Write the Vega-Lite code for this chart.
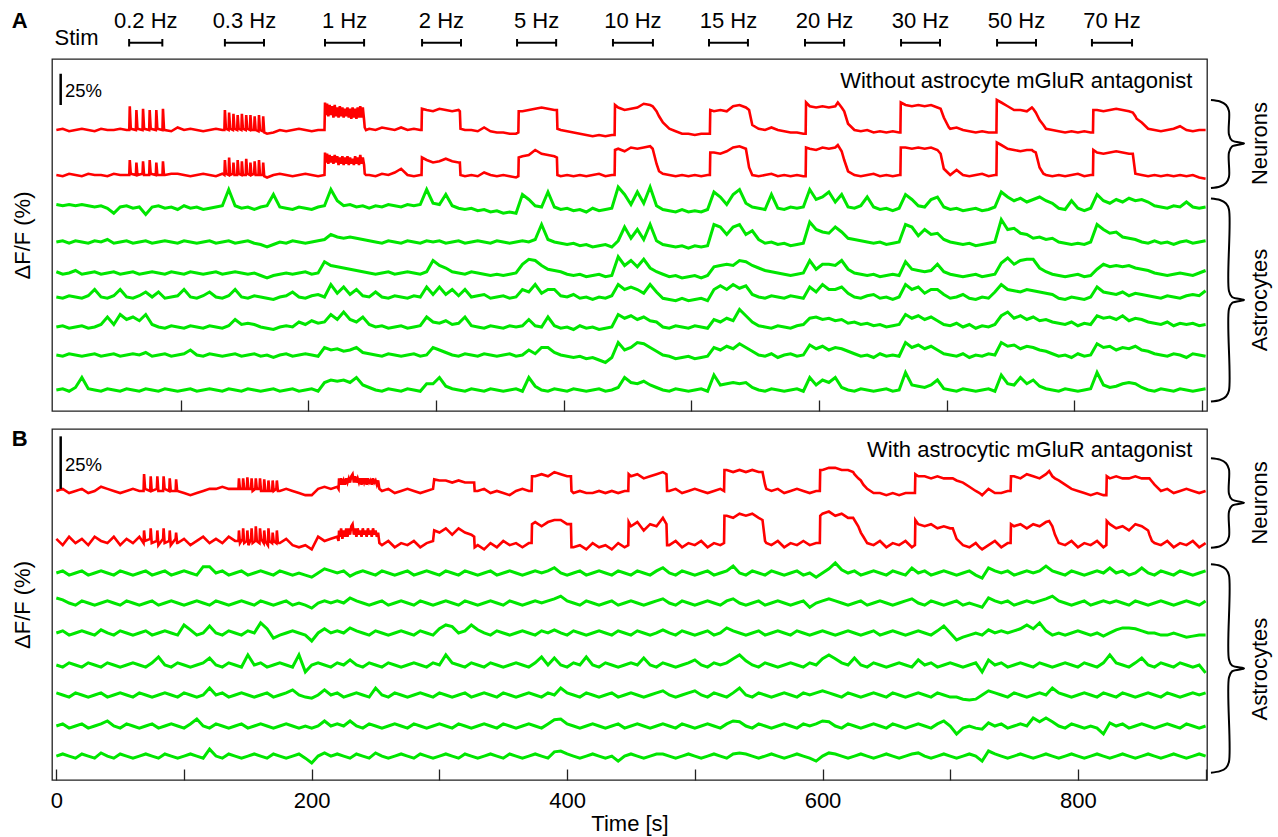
{
"$schema": "https://vega.github.io/schema/vega-lite/v6.json",
"background": "white",
"padding": {"left": 10, "top": 9, "right": 5, "bottom": 5},
"config": {"font": "Liberation Sans", "view": {"stroke": "#222", "strokeWidth": 1.3}, "axis": {"minExtent": 0, "grid": false}},
"spacing": 14,
"datasets": {
"stim": [
{"label":"0.2 Hz","start":57,"end":83,"mid":70},
{"label":"0.3 Hz","start":132,"end":162.6,"mid":147.3},
{"label":"1 Hz","start":210.4,"end":241,"mid":225.7},
{"label":"2 Hz","start":286.4,"end":316.9,"mid":301.6},
{"label":"5 Hz","start":360.8,"end":391.4,"mid":376.1},
{"label":"10 Hz","start":435.9,"end":467.2,"mid":451.5},
{"label":"15 Hz","start":511.1,"end":541.6,"mid":526.3},
{"label":"20 Hz","start":586.3,"end":616.9,"mid":601.6},
{"label":"30 Hz","start":661.5,"end":692,"mid":676.7},
{"label":"50 Hz","start":736.7,"end":767.2,"mid":751.9},
{"label":"70 Hz","start":811,"end":842.4,"mid":826.7}
],
"braceA": [
{"g":"n","o":1,"bx":904.2,"by":24},{"g":"n","o":2,"bx":911.3,"by":22.8},{"g":"n","o":3,"bx":916,"by":20},{"g":"n","o":4,"bx":918.3,"by":15.2},{"g":"n","o":5,"bx":918.3,"by":-3.6},{"g":"n","o":6,"bx":920.7,"by":-8.4},{"g":"n","o":7,"bx":930.1,"by":-10.8},{"g":"n","o":8,"bx":920.7,"by":-13.2},{"g":"n","o":9,"bx":918.3,"by":-18},{"g":"n","o":10,"bx":918.3,"by":-37.6},{"g":"n","o":11,"bx":916,"by":-42.4},{"g":"n","o":12,"bx":911.3,"by":-45.2},{"g":"n","o":13,"bx":904.2,"by":-46.4},
{"g":"s","o":1,"bx":904.2,"by":-54.8},{"g":"s","o":2,"bx":911.3,"by":-56},{"g":"s","o":3,"bx":916,"by":-58.8},{"g":"s","o":4,"bx":918.3,"by":-63.6},{"g":"s","o":5,"bx":918.3,"by":-128.8},{"g":"s","o":6,"bx":920.7,"by":-133.6},{"g":"s","o":7,"bx":930.1,"by":-136},{"g":"s","o":8,"bx":920.7,"by":-138.4},{"g":"s","o":9,"bx":918.3,"by":-143.2},{"g":"s","o":10,"bx":918.3,"by":-208.4},{"g":"s","o":11,"bx":916,"by":-213.2},{"g":"s","o":12,"bx":911.3,"by":-216},{"g":"s","o":13,"bx":904.2,"by":-217.2}
],
"braceB": [
{"g":"n","o":1,"bx":904.2,"by":15.6},{"g":"n","o":2,"bx":911.3,"by":14.9},{"g":"n","o":3,"bx":916,"by":13.2},{"g":"n","o":4,"bx":918.3,"by":10.3},{"g":"n","o":5,"bx":918.3,"by":-1.3},{"g":"n","o":6,"bx":920.7,"by":-4.1},{"g":"n","o":7,"bx":930.1,"by":-5.6},{"g":"n","o":8,"bx":920.7,"by":-7},{"g":"n","o":9,"bx":918.3,"by":-9.9},{"g":"n","o":10,"bx":918.3,"by":-21.8},{"g":"n","o":11,"bx":916,"by":-24.6},{"g":"n","o":12,"bx":911.3,"by":-26.3},{"g":"n","o":13,"bx":904.2,"by":-27},
{"g":"s","o":1,"bx":904.2,"by":-34.9},{"g":"s","o":2,"bx":911.3,"by":-35.6},{"g":"s","o":3,"bx":916,"by":-37.3},{"g":"s","o":4,"bx":918.3,"by":-40.1},{"g":"s","o":5,"bx":918.3,"by":-80.2},{"g":"s","o":6,"bx":920.7,"by":-83.1},{"g":"s","o":7,"bx":930.1,"by":-84.5},{"g":"s","o":8,"bx":920.7,"by":-85.9},{"g":"s","o":9,"bx":918.3,"by":-88.8},{"g":"s","o":10,"bx":918.3,"by":-128.9},{"g":"s","o":11,"bx":916,"by":-131.8},{"g":"s","o":12,"bx":911.3,"by":-133.4},{"g":"s","o":13,"bx":904.2,"by":-134.1}
],
"A": [
{"t":0,"a":0,"b":0,"c":2,"d":0,"e":1,"f":0,"g":0,"h":0,"i":0},
{"t":5,"a":1,"b":-1,"c":1,"d":1,"e":-1,"f":-1,"g":1,"h":-1,"i":1},
{"t":10,"a":-1,"b":1,"c":2,"d":-1,"e":0,"f":1,"g":-1,"h":1,"i":-1},
{"t":15,"a":0,"b":0,"c":1,"d":1,"e":2,"f":0,"g":0,"h":0,"i":2},
{"t":20,"a":1,"b":-1,"c":2,"d":0,"e":-1,"f":-1,"g":1,"h":-1,"i":10},
{"t":25,"a":0,"b":1,"c":1,"d":-1,"e":0,"f":1,"g":-1,"h":0,"i":1},
{"t":30,"a":-1,"b":0,"c":0,"d":1,"e":1,"f":6,"g":0,"h":1,"i":0},
{"t":35,"a":1,"b":0,"c":1,"d":0,"e":-1,"f":0,"g":2,"h":-1,"i":-1},
{"t":40,"a":0,"b":-1,"c":-1,"d":2,"e":0,"f":-1,"g":8,"h":0,"i":1},
{"t":45,"a":0,"b":1,"c":-5,"d":-1,"e":1,"f":1,"g":2,"h":1,"i":0},
{"t":50,"a":1,"b":0,"c":0,"d":0,"e":-1,"f":6,"g":10,"h":-1,"i":-1},
{"t":55,"a":0,"b":0,"c":1,"d":1,"e":0,"f":0,"g":6,"h":0,"i":1},
{"t":57.1,"a":0,"b":0},{"t":57.5,"a":19,"b":12},{"t":58.3,"a":1,"b":1},
{"t":60,"c":-1,"d":-1,"e":1,"f":-1,"g":8,"h":1,"i":0},
{"t":62.3,"a":0,"b":0},{"t":62.7,"a":16,"b":10},{"t":63.5,"a":1,"b":0},
{"t":65,"c":0,"d":0,"e":-1,"f":1,"g":5,"h":0,"i":-1},
{"t":67.5,"a":0,"b":1},{"t":67.9,"a":17,"b":11},{"t":68.7,"a":1,"b":0},
{"t":70,"c":-6,"d":1,"e":0,"f":4,"g":10,"h":2,"i":1},
{"t":72.7,"a":0,"b":0},{"t":73.1,"a":16,"b":12},{"t":73.9,"a":1,"b":1},
{"t":75,"c":0,"d":-1,"e":1,"f":0,"g":2,"h":-1,"i":0},
{"t":77.9,"a":0,"b":0},{"t":78.3,"a":16,"b":10},{"t":79.1,"a":1,"b":0},
{"t":80,"c":1,"d":0,"e":0,"f":4,"g":0,"h":0,"i":-1},
{"t":83.1,"a":0,"b":0},{"t":83.5,"a":17,"b":11},{"t":84.3,"a":1,"b":0},
{"t":85,"a":0,"b":0,"c":-1,"d":1,"e":-1,"f":-1,"g":-1,"h":1,"i":1},
{"t":90,"a":-1,"b":1,"c":0,"d":0,"e":1,"f":0,"g":1,"h":-1,"i":0},
{"t":95,"a":2,"b":1,"c":-2,"d":-1,"e":0,"f":1,"g":0,"h":0,"i":-1},
{"t":100,"a":0,"b":0,"c":1,"d":1,"e":-1,"f":6,"g":-1,"h":1,"i":0},
{"t":105,"a":1,"b":-1,"c":-1,"d":0,"e":1,"f":0,"g":1,"h":4,"i":1},
{"t":110,"a":0,"b":0,"c":0,"d":-1,"e":0,"f":-1,"g":0,"h":0,"i":-1},
{"t":115,"a":-1,"b":1,"c":-2,"d":0,"e":-1,"f":1,"g":-1,"h":-1,"i":0},
{"t":120,"a":0,"b":0,"c":-1,"d":1,"e":0,"f":4,"g":1,"h":1,"i":1},
{"t":125,"a":1,"b":-1,"c":0,"d":-1,"e":1,"f":0,"g":0,"h":0,"i":0},
{"t":130,"a":0,"b":1,"c":1,"d":0,"e":-1,"f":-1,"g":-1,"h":-1,"i":-1},
{"t":131.6,"a":0,"b":0},{"t":132,"a":16,"b":12},{"t":132.8,"a":1,"b":1},
{"t":134.9,"a":0,"b":0},{"t":135.3,"a":14,"b":14},{"t":136.1,"a":1,"b":0},
{"t":135,"c":14,"d":1,"e":0,"f":1,"g":1,"h":0,"i":1},
{"t":138.3,"a":0,"b":1},{"t":138.7,"a":13,"b":10},{"t":139.5,"a":1,"b":0},
{"t":140,"c":1,"d":-1,"e":1,"f":6,"g":6,"h":1,"i":0},
{"t":141.6,"a":0,"b":0},{"t":142,"a":12,"b":12},{"t":142.8,"a":1,"b":1},
{"t":144.9,"a":0,"b":0},{"t":145.3,"a":13,"b":11},{"t":146.1,"a":1,"b":0},
{"t":145,"c":-1,"d":0,"e":0,"f":0,"g":2,"h":-1,"i":-1},
{"t":148.3,"a":0,"b":0},{"t":148.7,"a":12,"b":13},{"t":149.5,"a":1,"b":1},
{"t":150,"c":0,"d":1,"e":-1,"f":-1,"g":3,"h":0,"i":1},
{"t":151.6,"a":0,"b":0},{"t":152,"a":12,"b":10},{"t":152.8,"a":0,"b":0},
{"t":154.9,"a":0,"b":1},{"t":155.3,"a":11,"b":11},{"t":156.1,"a":0,"b":0},
{"t":155,"c":-2,"d":-1,"e":0,"f":1,"g":2,"h":1,"i":0},
{"t":158.3,"a":-1,"b":0},{"t":158.7,"a":12,"b":12},{"t":159.5,"a":0,"b":0},
{"t":160,"c":0,"d":-2,"e":-2,"f":0,"g":0,"h":-1,"i":-1},
{"t":161.6,"a":-1,"b":0},{"t":162,"a":11,"b":10},{"t":162.8,"a":-2,"b":-1},
{"t":165,"a":-3,"b":-2,"c":1,"d":-4,"e":-4,"f":-1,"g":-1,"h":0,"i":0},
{"t":170,"a":-2,"b":0,"c":10,"d":-2,"e":-2,"f":-2,"g":-2,"h":-2,"i":1},
{"t":175,"a":0,"b":1,"c":0,"d":0,"e":-1,"f":0,"g":0,"h":0,"i":-1},
{"t":180,"a":-1,"b":0,"c":-1,"d":-1,"e":0,"f":1,"g":1,"h":1,"i":0},
{"t":185,"a":0,"b":-1,"c":-2,"d":1,"e":-1,"f":4,"g":0,"h":-1,"i":1},
{"t":190,"a":1,"b":0,"c":0,"d":0,"e":0,"f":0,"g":4,"h":0,"i":-1},
{"t":195,"a":0,"b":1,"c":-1,"d":-1,"e":1,"f":-1,"g":2,"h":1,"i":0},
{"t":200,"a":-1,"b":0,"c":-2,"d":0,"e":-1,"f":1,"g":5,"h":0,"i":1},
{"t":205,"a":0,"b":-1,"c":0,"d":1,"e":0,"f":2,"g":3,"h":-1,"i":-1},
{"t":210,"a":0,"b":0,"c":1,"d":2,"e":9,"f":0,"g":4,"h":6,"i":6},
{"t":210.4,"a":22,"b":18},{"t":211,"a":12,"b":10},{"t":212,"a":21,"b":17},{"t":213,"a":11,"b":9},{"t":214,"a":20,"b":16},
{"t":215,"a":12,"b":10,"c":14,"d":6,"e":6,"f":10,"g":10,"h":4,"i":8},
{"t":216,"a":19,"b":15},{"t":217,"a":10,"b":9},{"t":218,"a":20,"b":16},{"t":219,"a":11,"b":10},
{"t":220,"a":18,"b":15,"c":5,"d":4,"e":5,"f":3,"g":6,"h":5,"i":7},
{"t":221,"a":10,"b":8},{"t":222,"a":19,"b":14},{"t":223,"a":11,"b":9},{"t":224,"a":18,"b":15},
{"t":225,"a":10,"b":8,"c":1,"d":3,"e":4,"f":8,"g":12,"h":3,"i":8},
{"t":226,"a":17,"b":14},{"t":227,"a":11,"b":9},{"t":228,"a":18,"b":15},{"t":229,"a":10,"b":8},
{"t":230,"a":17,"b":14,"c":2,"d":4,"e":3,"f":2,"g":6,"h":4,"i":6},
{"t":231,"a":9,"b":9},{"t":232,"a":18,"b":13},{"t":233,"a":10,"b":8},{"t":234,"a":17,"b":15},
{"t":235,"a":9,"b":9,"c":0,"d":3,"e":2,"f":6,"g":4,"h":6,"i":10},
{"t":236,"a":18,"b":14},{"t":237,"a":10,"b":8},{"t":238,"a":19,"b":16},{"t":239,"a":10,"b":9},
{"t":240,"a":18,"b":14,"c":1,"d":2,"e":1,"f":1,"g":8,"h":2,"i":4},
{"t":241,"a":8,"b":8},{"t":241.5,"a":2,"b":1},{"t":242.5,"a":0,"b":0},
{"t":245,"a":1,"b":0,"c":-1,"d":1,"e":0,"f":0,"g":2,"h":1,"i":2},
{"t":250,"a":0,"b":-1,"c":1,"d":0,"e":-1,"f":4,"g":0,"h":0,"i":0},
{"t":255,"a":2,"b":1,"c":0,"d":-1,"e":0,"f":0,"g":1,"h":-1,"i":-1},
{"t":260,"a":1,"b":0,"c":2,"d":1,"e":1,"f":-1,"g":-1,"h":1,"i":1},
{"t":265,"a":0,"b":2,"c":1,"d":0,"e":-1,"f":1,"g":0,"h":0,"i":0},
{"t":270,"a":2,"b":5,"c":0,"d":-1,"e":0,"f":0,"g":1,"h":-1,"i":-1},
{"t":275,"a":0,"b":0,"c":2,"d":1,"e":1,"f":-1,"g":-1,"h":0,"i":1},
{"t":280,"a":1,"b":-1,"c":1,"d":0,"e":0,"f":1,"g":0,"h":1,"i":0},
{"t":285,"a":0,"b":0,"c":2,"d":-1,"e":-1,"f":0,"g":1,"h":-1,"i":-1},
{"t":286,"a":0,"b":0},{"t":286.3,"a":17,"b":14},
{"t":290,"a":16,"b":12,"c":14,"d":1,"e":1,"f":8,"g":8,"h":0,"i":5},
{"t":295,"a":15,"b":10,"c":3,"d":0,"e":10,"f":2,"g":4,"h":6,"i":5},
{"t":300,"a":17,"b":11,"c":2,"d":1,"e":6,"f":8,"g":3,"h":4,"i":10},
{"t":305,"a":16,"b":13,"c":10,"d":-1,"e":4,"f":2,"g":5,"h":2,"i":3},
{"t":310,"a":15,"b":11,"c":1,"d":0,"e":1,"f":6,"g":2,"h":0,"i":1},
{"t":315,"a":16,"b":10,"c":-1,"d":1,"e":0,"f":1,"g":3,"h":-1,"i":0},
{"t":316,"a":15,"b":10},{"t":316.5,"a":1,"b":0},
{"t":320,"a":0,"b":-1,"c":-2,"d":-1,"e":-1,"f":6,"g":8,"h":1,"i":-1},
{"t":325,"a":0,"b":0,"c":-1,"d":0,"e":1,"f":0,"g":1,"h":0,"i":1},
{"t":330,"a":-1,"b":-1,"c":-3,"d":1,"e":0,"f":1,"g":0,"h":-1,"i":0},
{"t":335,"a":2,"b":2,"c":-2,"d":0,"e":-1,"f":2,"g":-1,"h":1,"i":-1},
{"t":340,"a":-1,"b":0,"c":-4,"d":-1,"e":-2,"f":-1,"g":1,"h":0,"i":1},
{"t":345,"a":-2,"b":-1,"c":-3,"d":1,"e":-1,"f":0,"g":0,"h":-1,"i":0},
{"t":350,"a":-2,"b":0,"c":-5,"d":0,"e":-2,"f":1,"g":-1,"h":0,"i":-1},
{"t":355,"a":-3,"b":-1,"c":-4,"d":-1,"e":-1,"f":-1,"g":1,"h":1,"i":0},
{"t":360,"a":-3,"b":-2,"c":-5,"d":0,"e":0,"f":0,"g":0,"h":-1,"i":1},
{"t":361.8,"a":-2,"b":-1},{"t":362.1,"a":15,"b":14},
{"t":365,"a":15,"b":15,"c":10,"d":1,"e":7,"f":6,"g":1,"h":0,"i":-1},
{"t":370,"a":16,"b":16,"c":6,"d":0,"e":11,"f":4,"g":6,"h":4,"i":10},
{"t":375,"a":17,"b":20,"c":1,"d":2,"e":10,"f":10,"g":1,"h":1,"i":3},
{"t":380,"a":18,"b":17,"c":0,"d":14,"e":6,"f":3,"g":0,"h":6,"i":0},
{"t":385,"a":17,"b":16,"c":12,"d":2,"e":3,"f":6,"g":8,"h":6,"i":-1},
{"t":390,"a":16,"b":15,"c":0,"d":0,"e":2,"f":6,"g":1,"h":2,"i":1},
{"t":392,"a":16,"b":14},{"t":392.4,"a":1,"b":0},
{"t":395,"a":0,"b":-1,"c":-2,"d":-1,"e":1,"f":1,"g":-1,"h":0,"i":0},
{"t":400,"a":-1,"b":0,"c":-1,"d":-2,"e":-1,"f":0,"g":0,"h":-1,"i":-1},
{"t":405,"a":-2,"b":-1,"c":-3,"d":-1,"e":-2,"f":2,"g":-2,"h":-2,"i":1},
{"t":410,"a":-3,"b":0,"c":-2,"d":-3,"e":-1,"f":-1,"g":1,"h":-1,"i":0},
{"t":415,"a":-4,"b":-1,"c":-4,"d":-2,"e":-3,"f":0,"g":-1,"h":-3,"i":-1},
{"t":420,"a":-5,"b":0,"c":-1,"d":-4,"e":-2,"f":-2,"g":0,"h":-2,"i":0},
{"t":425,"a":-4,"b":1,"c":-3,"d":-3,"e":-1,"f":0,"g":-2,"h":-4,"i":1},
{"t":430,"a":-5,"b":-1,"c":-2,"d":-2,"e":-3,"f":-1,"g":-1,"h":-6,"i":-1},
{"t":435,"a":-4,"b":0,"c":-1,"d":-4,"e":-2,"f":1,"g":0,"h":-2,"i":0},
{"t":437.2,"a":-4,"b":0},{"t":437.5,"a":20,"b":20},
{"t":440,"a":18,"b":21,"c":16,"d":1,"e":13,"f":10,"g":10,"h":10,"i":2},
{"t":445,"a":16,"b":19,"c":10,"d":12,"e":6,"f":6,"g":7,"h":4,"i":10},
{"t":450,"a":17,"b":22,"c":2,"d":3,"e":10,"f":8,"g":9,"h":6,"i":6},
{"t":455,"a":18,"b":21,"c":12,"d":10,"e":5,"f":6,"g":6,"h":10,"i":5},
{"t":460,"a":21,"b":22,"c":3,"d":2,"e":11,"f":3,"g":8,"h":9,"i":7},
{"t":465,"a":20,"b":23,"c":16,"d":14,"e":4,"f":10,"g":5,"h":6,"i":4},
{"t":467,"a":19,"b":21},
{"t":470,"a":15,"b":9,"c":1,"d":1,"e":1,"f":4,"g":4,"h":3,"i":2},
{"t":472,"a":11,"b":3},
{"t":475,"a":6,"b":1,"c":-2,"d":-2,"e":-1,"f":-1,"g":0,"h":0,"i":0},
{"t":480,"a":1,"b":0,"c":-3,"d":-3,"e":-3,"f":-2,"g":-1,"h":-1,"i":-1},
{"t":485,"a":-1,"b":-1,"c":-4,"d":-4,"e":-2,"f":-3,"g":1,"h":-3,"i":1},
{"t":490,"a":-3,"b":0,"c":-2,"d":-3,"e":-4,"f":-1,"g":0,"h":-2,"i":0},
{"t":495,"a":-3,"b":-1,"c":-4,"d":-5,"e":-3,"f":-3,"g":-1,"h":-1,"i":-1},
{"t":500,"a":-4,"b":0,"c":-3,"d":-3,"e":-2,"f":-2,"g":1,"h":-3,"i":0},
{"t":505,"a":-3,"b":-1,"c":-4,"d":-4,"e":-4,"f":-1,"g":0,"h":-2,"i":1},
{"t":510,"a":-3,"b":0,"c":-2,"d":-3,"e":-2,"f":-3,"g":-1,"h":-1,"i":-1},
{"t":511.8,"a":-3,"b":0},{"t":512.1,"a":16,"b":18},
{"t":515,"a":15,"b":18,"c":12,"d":14,"e":5,"f":6,"g":6,"h":6,"i":12},
{"t":520,"a":16,"b":17,"c":8,"d":12,"e":6,"f":9,"g":4,"h":4,"i":4},
{"t":525,"a":15,"b":19,"c":2,"d":6,"e":7,"f":6,"g":7,"h":7,"i":5},
{"t":530,"a":19,"b":22,"c":10,"d":12,"e":6,"f":10,"g":5,"h":5,"i":6},
{"t":535,"a":20,"b":23,"c":14,"d":14,"e":10,"f":7,"g":14,"h":9,"i":5},
{"t":540,"a":18,"b":21,"c":3,"d":6,"e":9,"f":9,"g":9,"h":6,"i":6},
{"t":542.5,"a":16,"b":6},
{"t":545,"a":4,"b":0,"c":0,"d":9,"e":6,"f":2,"g":4,"h":3,"i":2},
{"t":550,"a":1,"b":-1,"c":-1,"d":2,"e":4,"f":0,"g":1,"h":0,"i":0},
{"t":555,"a":0,"b":0,"c":-2,"d":-1,"e":2,"f":-1,"g":0,"h":-1,"i":-1},
{"t":560,"a":2,"b":1,"c":10,"d":0,"e":1,"f":1,"g":-1,"h":1,"i":1},
{"t":565,"a":0,"b":-1,"c":-1,"d":-2,"e":0,"f":0,"g":1,"h":-2,"i":0},
{"t":570,"a":-1,"b":0,"c":-2,"d":-1,"e":-1,"f":-1,"g":0,"h":0,"i":-1},
{"t":575,"a":-2,"b":-1,"c":0,"d":-3,"e":-2,"f":1,"g":-1,"h":1,"i":0},
{"t":580,"a":-2,"b":0,"c":-1,"d":-2,"e":-1,"f":0,"g":1,"h":-1,"i":1},
{"t":585,"a":-3,"b":-1,"c":0,"d":-1,"e":0,"f":-1,"g":2,"h":0,"i":-1},
{"t":586.8,"a":-3,"b":-1},{"t":587.1,"a":22,"b":22},
{"t":590,"a":19,"b":21,"c":14,"d":16,"e":10,"f":8,"g":7,"h":8,"i":10},
{"t":595,"a":18,"b":20,"c":6,"d":10,"e":3,"f":4,"g":8,"h":5,"i":4},
{"t":600,"a":19,"b":22,"c":8,"d":8,"e":7,"f":10,"g":6,"h":7,"i":8},
{"t":605,"a":18,"b":21,"c":12,"d":7,"e":7,"f":6,"g":7,"h":4,"i":6},
{"t":610,"a":19,"b":22,"c":4,"d":12,"e":6,"f":6,"g":5,"h":6,"i":10},
{"t":612,"a":22,"b":24},
{"t":615,"a":18,"b":19,"c":10,"d":8,"e":10,"f":8,"g":6,"h":5,"i":2},
{"t":617,"a":15,"b":12},
{"t":620,"a":5,"b":3,"c":0,"d":3,"e":3,"f":3,"g":3,"h":3,"i":0},
{"t":625,"a":0,"b":0,"c":-1,"d":2,"e":0,"f":0,"g":4,"h":1,"i":-1},
{"t":630,"a":-1,"b":-1,"c":1,"d":1,"e":-1,"f":-1,"g":2,"h":-1,"i":1},
{"t":635,"a":0,"b":0,"c":8,"d":0,"e":-2,"f":1,"g":3,"h":0,"i":0},
{"t":640,"a":-2,"b":1,"c":0,"d":-1,"e":-1,"f":2,"g":1,"h":-2,"i":-1},
{"t":645,"a":-1,"b":-1,"c":-2,"d":0,"e":-3,"f":-1,"g":2,"h":1,"i":0},
{"t":650,"a":-2,"b":0,"c":-1,"d":-2,"e":-2,"f":0,"g":0,"h":-1,"i":1},
{"t":655,"a":-1,"b":-1,"c":-3,"d":-1,"e":-1,"f":-2,"g":1,"h":0,"i":-1},
{"t":660,"a":-2,"b":0,"c":-1,"d":0,"e":-2,"f":0,"g":2,"h":-1,"i":0},
{"t":661,"a":-2,"b":0},{"t":661.3,"a":22,"b":22},
{"t":665,"a":20,"b":22,"c":10,"d":14,"e":9,"f":10,"g":10,"h":10,"i":14},
{"t":670,"a":19,"b":21,"c":6,"d":12,"e":3,"f":6,"g":7,"h":6,"i":4},
{"t":675,"a":20,"b":22,"c":1,"d":5,"e":2,"f":8,"g":9,"h":8,"i":3},
{"t":680,"a":19,"b":21,"c":0,"d":10,"e":1,"f":3,"g":6,"h":5,"i":2},
{"t":685,"a":20,"b":22,"c":6,"d":6,"e":2,"f":6,"g":8,"h":7,"i":4},
{"t":690,"a":18,"b":20,"c":8,"d":7,"e":7,"f":6,"g":5,"h":4,"i":8},
{"t":692.5,"a":17,"b":17},
{"t":695,"a":10,"b":5,"c":0,"d":2,"e":1,"f":2,"g":2,"h":1,"i":1},
{"t":699,"a":2,"b":1},
{"t":700,"a":1,"b":0,"c":-2,"d":0,"e":-1,"f":-1,"g":1,"h":0,"i":0},
{"t":705,"a":2,"b":4,"c":-1,"d":-1,"e":-2,"f":0,"g":3,"h":-1,"i":-1},
{"t":710,"a":0,"b":0,"c":-3,"d":-2,"e":-3,"f":2,"g":0,"h":1,"i":1},
{"t":715,"a":-1,"b":-1,"c":-2,"d":-1,"e":-2,"f":-1,"g":2,"h":-2,"i":0},
{"t":720,"a":-2,"b":0,"c":-1,"d":-3,"e":-1,"f":-2,"g":-1,"h":0,"i":-1},
{"t":725,"a":-1,"b":1,"c":-3,"d":-2,"e":-3,"f":0,"g":1,"h":-1,"i":0},
{"t":730,"a":-2,"b":-1,"c":-2,"d":-1,"e":-2,"f":-1,"g":0,"h":1,"i":1},
{"t":735,"a":-2,"b":0,"c":0,"d":0,"e":-1,"f":4,"g":2,"h":0,"i":-1},
{"t":736.2,"a":-2,"b":0},{"t":736.5,"a":24,"b":26},
{"t":740,"a":22,"b":24,"c":12,"d":18,"e":8,"f":10,"g":9,"h":10,"i":12},
{"t":745,"a":19,"b":21,"c":8,"d":10,"e":12,"f":6,"g":12,"h":7,"i":5},
{"t":750,"a":16,"b":20,"c":5,"d":11,"e":7,"f":5,"g":7,"h":8,"i":4},
{"t":755,"a":16,"b":19,"c":7,"d":7,"e":10,"f":4,"g":9,"h":5,"i":10},
{"t":760,"a":15,"b":20,"c":4,"d":6,"e":11,"f":6,"g":6,"h":7,"i":5},
{"t":764,"a":18,"b":20},
{"t":765,"a":17,"b":19,"c":6,"d":3,"e":11,"f":5,"g":8,"h":6,"i":8},
{"t":767,"a":14,"b":18},{"t":769,"a":10,"b":10},
{"t":770,"a":8,"b":6,"c":8,"d":4,"e":4,"f":4,"g":5,"h":4,"i":3},
{"t":773,"a":4,"b":1},
{"t":775,"a":1,"b":0,"c":5,"d":2,"e":1,"f":3,"g":6,"h":3,"i":1},
{"t":780,"a":0,"b":-1,"c":3,"d":3,"e":-1,"f":2,"g":4,"h":1,"i":0},
{"t":785,"a":-1,"b":0,"c":-1,"d":0,"e":-2,"f":-1,"g":3,"h":-1,"i":-1},
{"t":790,"a":-2,"b":-1,"c":-2,"d":-1,"e":-3,"f":-2,"g":2,"h":0,"i":1},
{"t":795,"a":-1,"b":0,"c":5,"d":-2,"e":-2,"f":0,"g":4,"h":-2,"i":0},
{"t":800,"a":-2,"b":1,"c":-1,"d":-1,"e":-1,"f":-1,"g":1,"h":1,"i":-1},
{"t":805,"a":-1,"b":-1,"c":-3,"d":-2,"e":-3,"f":-2,"g":3,"h":-1,"i":0},
{"t":810,"a":-2,"b":0,"c":-1,"d":0,"e":-2,"f":0,"g":2,"h":0,"i":1},
{"t":811.8,"a":-2,"b":0},{"t":812.1,"a":16,"b":20},
{"t":815,"a":16,"b":18,"c":10,"d":14,"e":3,"f":8,"g":9,"h":9,"i":14},
{"t":820,"a":15,"b":17,"c":5,"d":10,"e":7,"f":4,"g":7,"h":6,"i":4},
{"t":825,"a":16,"b":18,"c":3,"d":7,"e":5,"f":3,"g":8,"h":7,"i":2},
{"t":830,"a":17,"b":19,"c":6,"d":8,"e":6,"f":2,"g":6,"h":4,"i":3},
{"t":835,"a":16,"b":18,"c":4,"d":4,"e":5,"f":4,"g":9,"h":6,"i":5},
{"t":840,"a":15,"b":17,"c":7,"d":3,"e":6,"f":1,"g":5,"h":5,"i":6},
{"t":843,"a":14,"b":17},
{"t":845,"a":11,"b":1,"c":5,"d":2,"e":4,"f":3,"g":7,"h":7,"i":5},
{"t":846,"a":9},
{"t":850,"a":6,"b":0,"c":6,"d":0,"e":3,"f":2,"g":6,"h":4,"i":2},
{"t":855,"a":1,"b":-1,"c":4,"d":-1,"e":2,"f":1,"g":4,"h":3,"i":0},
{"t":860,"a":0,"b":0,"c":1,"d":1,"e":0,"f":0,"g":3,"h":1,"i":-1},
{"t":865,"a":-1,"b":-1,"c":0,"d":-1,"e":-1,"f":-1,"g":2,"h":0,"i":1},
{"t":870,"a":0,"b":0,"c":-1,"d":0,"e":-2,"f":1,"g":4,"h":-1,"i":0},
{"t":875,"a":1,"b":-1,"c":1,"d":-2,"e":-1,"f":0,"g":1,"h":1,"i":-1},
{"t":880,"a":3,"b":0,"c":0,"d":0,"e":0,"f":-1,"g":3,"h":0,"i":1},
{"t":885,"a":0,"b":-1,"c":4,"d":1,"e":-1,"f":1,"g":2,"h":-2,"i":0},
{"t":890,"a":-1,"b":0,"c":0,"d":-1,"e":-2,"f":2,"g":3,"h":1,"i":-1},
{"t":895,"a":0,"b":-2,"c":-1,"d":0,"e":0,"f":1,"g":1,"h":0,"i":0},
{"t":900,"a":0,"b":-3,"c":0,"d":1,"e":2,"f":5,"g":2,"h":-1,"i":1}
],
"B": [
{"t":0,"a":0,"b":1,"c":0,"d":2.4,"e":0,"f":0,"g":1,"h":0,"i":0},
{"t":5,"a":1,"b":-2,"c":1,"d":1.5,"e":1,"f":-1,"g":0,"h":1,"i":1},
{"t":10,"a":-1,"b":2,"c":-1,"d":0,"e":-1,"f":1,"g":-1,"h":-1,"i":0},
{"t":15,"a":0,"b":-1,"c":0,"d":-1,"e":0,"f":0,"g":1,"h":0,"i":-1},
{"t":20,"a":1,"b":1,"c":1,"d":1,"e":1,"f":-1,"g":0,"h":1,"i":1},
{"t":25,"a":-1,"b":-2,"c":-1,"d":0,"e":0,"f":1,"g":-1,"h":-1,"i":0},
{"t":30,"a":0,"b":2,"c":0,"d":-1,"e":-1,"f":0,"g":0,"h":0,"i":-1},
{"t":35,"a":2,"b":0,"c":1,"d":0,"e":1.5,"f":-1,"g":1,"h":1,"i":1.5},
{"t":40,"a":1,"b":-1,"c":0,"d":1,"e":0,"f":1,"g":-1,"h":2.4,"i":0},
{"t":45,"a":0,"b":2,"c":-1,"d":0,"e":-1,"f":0,"g":0,"h":0,"i":-1},
{"t":50,"a":-1,"b":-2,"c":1,"d":-1,"e":1,"f":-1,"g":1,"h":-1,"i":1},
{"t":55,"a":0,"b":1,"c":0,"d":1,"e":0,"f":0,"g":0,"h":1,"i":0},
{"t":60,"a":1,"b":-1,"c":-1,"d":0,"e":-1,"f":1,"g":-1,"h":0,"i":-1},
{"t":65,"a":0,"b":2,"c":0,"d":-1,"e":0,"f":0,"g":1,"h":-1,"i":0},
{"t":68.3,"a":0,"b":-1},{"t":68.7,"a":8,"b":5},{"t":69.5,"a":1,"b":0},
{"t":70,"c":1,"d":0,"e":1,"f":-1,"g":0,"h":0,"i":1},
{"t":73.5,"a":0,"b":1},{"t":73.9,"a":7,"b":6},{"t":74.7,"a":0,"b":-1},
{"t":75,"c":-1,"d":1,"e":-1,"f":1,"g":-1,"h":1,"i":0},
{"t":78.7,"a":1,"b":0},{"t":79.1,"a":7,"b":5},{"t":79.9,"a":0,"b":-2},
{"t":80,"c":0,"d":-1,"e":0,"f":3.8,"g":0,"h":-1,"i":-1},
{"t":83.6,"a":0,"b":1},{"t":84,"a":7,"b":6},{"t":84.8,"a":1,"b":-1},
{"t":85,"c":1,"d":0,"e":1,"f":0,"g":1,"h":0,"i":1},
{"t":88.4,"a":0,"b":0},{"t":88.8,"a":6,"b":5},{"t":89.6,"a":0,"b":-2},
{"t":90,"c":-1,"d":1,"e":0,"f":-1,"g":0,"h":1,"i":0},
{"t":93.4,"a":0,"b":1},{"t":93.8,"a":5.5,"b":4},{"t":94.6,"a":0,"b":-1},
{"t":95,"a":0,"b":-1,"c":0,"d":0,"e":-1,"f":1,"g":-1,"h":0,"i":-1},
{"t":100,"a":-1,"b":1,"c":1,"d":-1,"e":3.8,"f":0,"g":1,"h":-1,"i":0},
{"t":105,"a":-2,"b":-2,"c":0,"d":0,"e":1.5,"f":-1,"g":0,"h":1,"i":1},
{"t":110,"a":-1,"b":0,"c":-1,"d":1,"e":-1,"f":0,"g":-1,"h":3.3,"i":0},
{"t":115,"a":0,"b":2,"c":3,"d":0,"e":0,"f":1,"g":0,"h":0,"i":-1},
{"t":120,"a":1,"b":-1,"c":3,"d":-1,"e":3.3,"f":3.3,"g":3.3,"h":-1,"i":3.3},
{"t":125,"a":1,"b":1,"c":0,"d":1,"e":0,"f":0,"g":0,"h":1,"i":0},
{"t":130,"a":2,"b":-1,"c":1,"d":0,"e":-1,"f":-1,"g":1,"h":0,"i":-1},
{"t":135,"a":1,"b":2,"c":-1,"d":-1,"e":1,"f":1,"g":-1,"h":-1,"i":1},
{"t":140,"a":1,"b":0,"c":0,"d":0,"e":0,"f":0,"g":0,"h":0,"i":0},
{"t":142.6,"a":1,"b":0},{"t":143,"a":6,"b":5},{"t":143.8,"a":1,"b":-1},
{"t":145,"c":1,"d":1,"e":-1,"f":-1,"g":1,"h":1,"i":-1},
{"t":145.9,"a":1,"b":1},{"t":146.3,"a":6,"b":6},{"t":147.1,"a":1,"b":-1},
{"t":149.2,"a":1,"b":0},{"t":149.6,"a":6.5,"b":5},{"t":150.4,"a":1,"b":-2},
{"t":150,"c":-1,"d":0,"e":1,"f":4.8,"g":0,"h":-1,"i":0},
{"t":152.5,"a":1,"b":1},{"t":152.9,"a":6,"b":6},{"t":153.7,"a":0,"b":-1},
{"t":155,"c":0,"d":-1,"e":0,"f":0,"g":-1,"h":0,"i":1},
{"t":155.8,"a":1,"b":0},{"t":156.2,"a":6,"b":7},{"t":157,"a":1,"b":0},
{"t":159.1,"a":1,"b":-1},{"t":159.5,"a":6,"b":6},{"t":160.3,"a":0,"b":1},
{"t":160,"c":1,"d":1,"e":4.8,"f":1,"g":0,"h":1,"i":0},
{"t":162.4,"a":0,"b":-1},{"t":162.8,"a":5.5,"b":5},{"t":163.6,"a":0,"b":0},
{"t":165,"c":0,"d":0,"e":2,"f":-1,"g":1,"h":0,"i":-1},
{"t":165.7,"a":0,"b":-2},{"t":166.1,"a":5,"b":6},{"t":166.9,"a":0,"b":0},
{"t":169,"a":0,"b":-1},{"t":169.4,"a":5,"b":4},{"t":170.2,"a":0,"b":0},
{"t":170,"c":-1,"d":-1,"e":-2.4,"f":0,"g":-1,"h":-1,"i":1},
{"t":172.3,"a":1,"b":-1},{"t":172.7,"a":5,"b":5},{"t":173.5,"a":0,"b":-1},
{"t":175,"a":0,"b":-1,"c":1,"d":0,"e":-1,"f":1,"g":0,"h":0,"i":0},
{"t":180,"a":1,"b":1,"c":0,"d":1,"e":0,"f":0,"g":1,"h":1,"i":-1},
{"t":185,"a":0,"b":-2,"c":-1,"d":-1,"e":1,"f":-1,"g":2.4,"h":0,"i":0},
{"t":190,"a":-1,"b":-3,"c":0,"d":0,"e":0,"f":4.8,"g":0,"h":-1,"i":1},
{"t":195,"a":-2,"b":-2,"c":-1,"d":-1,"e":-1,"f":-3.3,"g":-1,"h":0,"i":-1},
{"t":200,"a":-2,"b":-4,"c":-2,"d":-2.4,"e":-3.8,"f":0,"g":-1.5,"h":-1,"i":-3.3},
{"t":205,"a":1,"b":2,"c":0,"d":0,"e":0,"f":1,"g":0,"h":0,"i":0},
{"t":210,"a":2,"b":0,"c":2,"d":1,"e":2,"f":0,"g":2.4,"h":2.4,"i":1.5},
{"t":215,"a":1,"b":1,"c":1,"d":0,"e":0,"f":-1,"g":0,"h":0,"i":0},
{"t":220,"a":2,"b":2,"c":0,"d":1,"e":1,"f":1,"g":1,"h":1,"i":1},
{"t":221,"a":1,"b":0},{"t":221.4,"a":6,"b":5},{"t":222,"a":3,"b":2},{"t":223,"a":6,"b":6},{"t":224,"a":3,"b":1},
{"t":225,"a":5,"b":5,"c":1,"d":0,"e":0,"f":0,"g":-1,"h":0,"i":0},
{"t":226,"a":3,"b":2},{"t":227,"a":6,"b":6},{"t":228,"a":4,"b":2},{"t":229,"a":6,"b":6},
{"t":230,"a":4,"b":3,"c":-1.5,"d":2.4,"e":2.4,"f":2.4,"g":0,"h":2.4,"i":-1},
{"t":231,"a":7,"b":7},{"t":232,"a":8,"b":8},{"t":233,"a":4,"b":3},{"t":234,"a":7,"b":6},
{"t":235,"a":4,"b":2,"c":0,"d":1,"e":1,"f":0,"g":1,"h":0,"i":1},
{"t":236,"a":6,"b":6},{"t":237,"a":4,"b":3},{"t":238,"a":6,"b":5},{"t":239,"a":3,"b":2},
{"t":240,"a":6,"b":6,"c":1,"d":0,"e":0,"f":-1,"g":0,"h":-1,"i":0},
{"t":241,"a":4,"b":3},{"t":242,"a":6,"b":5},{"t":243,"a":3,"b":2},{"t":244,"a":6,"b":6},
{"t":245,"a":4,"b":3,"c":0,"d":-1,"e":-1,"f":1,"g":-1,"h":1,"i":-1},
{"t":246,"a":5,"b":5},{"t":247,"a":3,"b":2},{"t":248,"a":6,"b":6},{"t":249,"a":4,"b":3},
{"t":250,"a":5,"b":5,"c":-1,"d":0,"e":1,"f":0,"g":3.3,"h":0,"i":1.5},
{"t":251,"a":3,"b":2},{"t":252,"a":5,"b":4},{"t":253,"a":1,"b":-1},
{"t":255,"a":0,"b":-2,"c":1,"d":1,"e":0,"f":-1,"g":0,"h":-1,"i":0},
{"t":260,"a":1,"b":0,"c":0,"d":-1,"e":-1,"f":1,"g":-1,"h":0,"i":-1},
{"t":265,"a":-1,"b":-3,"c":-1,"d":0,"e":0,"f":0,"g":1,"h":1,"i":0},
{"t":270,"a":0,"b":-1,"c":0,"d":1,"e":1,"f":-1,"g":0,"h":0,"i":1},
{"t":275,"a":1,"b":-2,"c":1,"d":0,"e":0,"f":0,"g":-1,"h":-1,"i":0},
{"t":280,"a":0,"b":0,"c":-1,"d":-1,"e":-1,"f":1,"g":0,"h":1,"i":-1},
{"t":285,"a":-1,"b":-3,"c":0,"d":1,"e":1,"f":0,"g":1,"h":0,"i":1},
{"t":290,"a":0,"b":-1,"c":1,"d":0,"e":0,"f":-1,"g":0,"h":-1,"i":0},
{"t":295,"a":1,"b":0,"c":0,"d":-1,"e":-1,"f":1,"g":-1,"h":0,"i":-1},
{"t":295.9,"a":5.5,"b":5},
{"t":300,"a":5,"b":4,"c":-1,"d":0,"e":2,"f":0,"g":1,"h":1,"i":0},
{"t":305,"a":5,"b":6,"c":1,"d":1,"e":3.8,"f":4.8,"g":0,"h":0,"i":1},
{"t":310,"a":4,"b":3,"c":0,"d":0,"e":3,"f":1,"g":-1,"h":-1,"i":0},
{"t":315,"a":5,"b":6,"c":-1,"d":-1,"e":0,"f":0,"g":0,"h":1,"i":-1},
{"t":320,"a":4,"b":4,"c":1,"d":1,"e":1,"f":-1,"g":1,"h":0,"i":1},
{"t":325,"a":4,"b":3,"c":0,"d":0,"e":3.8,"f":1,"g":-1,"h":-1,"i":0},
{"t":327.2,"a":4,"b":2},{"t":327.6,"a":0,"b":-3},
{"t":330,"a":0,"b":-2,"c":-1,"d":-1,"e":1.5,"f":0,"g":0,"h":0,"i":-1},
{"t":335,"a":1,"b":-4,"c":0,"d":0,"e":0,"f":-1,"g":1,"h":1,"i":0},
{"t":340,"a":-1,"b":-1,"c":1,"d":1,"e":-1,"f":1,"g":0,"h":0,"i":1},
{"t":345,"a":0,"b":-3,"c":-1,"d":0,"e":1,"f":0,"g":-1,"h":-1,"i":0},
{"t":350,"a":-1,"b":0,"c":0,"d":-1,"e":0,"f":-1,"g":1,"h":1,"i":-1},
{"t":355,"a":-2,"b":-2,"c":1,"d":1,"e":-1,"f":0,"g":0,"h":0,"i":1},
{"t":360,"a":0,"b":-1,"c":0,"d":0,"e":0,"f":1,"g":-1,"h":-1,"i":0},
{"t":365,"a":1,"b":-3,"c":-1,"d":-1,"e":1,"f":0,"g":0,"h":0,"i":-1},
{"t":370,"a":0,"b":-1,"c":0,"d":0,"e":0,"f":-1,"g":1,"h":1,"i":0},
{"t":372.2,"a":0,"b":-1},{"t":372.5,"a":7,"b":8},
{"t":375,"a":7,"b":9,"c":1,"d":1,"e":-1,"f":1,"g":0,"h":0,"i":1},
{"t":380,"a":8,"b":7,"c":0,"d":0,"e":1,"f":3.8,"g":-1,"h":-1,"i":0},
{"t":385,"a":7,"b":9,"c":1,"d":1,"e":0,"f":0,"g":1,"h":1,"i":-1},
{"t":390,"a":9,"b":10,"c":2.5,"d":2,"e":1.5,"f":3.3,"g":0,"h":3,"i":2},
{"t":395,"a":8,"b":10,"c":0,"d":3.3,"e":0,"f":0,"g":3.3,"h":3.3,"i":2.4},
{"t":400,"a":7,"b":8,"c":-1,"d":1,"e":-1,"f":-1,"g":1,"h":1,"i":1},
{"t":403,"a":7,"b":8},{"t":403.4,"a":0,"b":-3},
{"t":405,"a":-1,"b":-3,"c":0,"d":0,"e":1,"f":1,"g":0,"h":0,"i":0},
{"t":410,"a":0,"b":-2,"c":1,"d":-1,"e":0,"f":0,"g":-1,"h":-1,"i":-1},
{"t":415,"a":-1,"b":-4,"c":-1,"d":1,"e":-1,"f":3.8,"g":1,"h":0,"i":0},
{"t":420,"a":-1,"b":-1,"c":0,"d":0,"e":0,"f":0,"g":0,"h":1,"i":1},
{"t":425,"a":0,"b":-3,"c":1,"d":-1,"e":1,"f":-1,"g":-1,"h":0,"i":0},
{"t":430,"a":-1,"b":-2,"c":0,"d":0,"e":0,"f":1,"g":0,"h":-1,"i":-1},
{"t":435,"a":0,"b":-4,"c":-1,"d":1,"e":-1,"f":0,"g":1,"h":0,"i":0},
{"t":440,"a":-1,"b":-1,"c":1,"d":-1,"e":1,"f":-1,"g":-1,"h":1,"i":-2.4},
{"t":445,"a":0,"b":-3,"c":0,"d":0,"e":0,"f":0,"g":0,"h":-1,"i":0},
{"t":447.9,"a":0,"b":-2},{"t":448.2,"a":8,"b":9},
{"t":450,"a":7,"b":7,"c":-1,"d":1,"e":-1,"f":1,"g":1,"h":0,"i":1},
{"t":455,"a":8,"b":9,"c":1,"d":0,"e":1,"f":0,"g":0,"h":1,"i":0},
{"t":460,"a":6,"b":5,"c":0,"d":-1,"e":0,"f":3.3,"g":-1,"h":0,"i":-1},
{"t":465,"a":7,"b":8,"c":-1,"d":0,"e":-1,"f":0,"g":0,"h":-1,"i":0},
{"t":470,"a":8,"b":7,"c":1,"d":1,"e":0,"f":-1,"g":1,"h":0,"i":1},
{"t":475,"a":9,"b":11,"c":2.5,"d":2,"e":1.5,"f":1,"g":2,"h":1,"i":1},
{"t":477.8,"a":8,"b":8},{"t":478.3,"a":0,"b":-2},
{"t":480,"a":0,"b":-2,"c":0,"d":0,"e":0,"f":0,"g":0,"h":0,"i":0},
{"t":485,"a":1,"b":0,"c":-1,"d":-1,"e":-1,"f":-1,"g":-1,"h":-1,"i":-1},
{"t":490,"a":-1,"b":-3,"c":1,"d":1,"e":1,"f":0,"g":0,"h":1,"i":0},
{"t":495,"a":0,"b":-1,"c":0,"d":0,"e":0,"f":1,"g":1,"h":0,"i":1},
{"t":500,"a":1,"b":-2,"c":-1,"d":-1,"e":-1,"f":2.4,"g":2,"h":-1,"i":0},
{"t":505,"a":0,"b":0,"c":0,"d":0,"e":0,"f":0,"g":0,"h":0,"i":-1},
{"t":510,"a":-1,"b":-3,"c":1,"d":1,"e":1,"f":-1,"g":-1,"h":1,"i":0},
{"t":515,"a":0,"b":-1,"c":-1,"d":0,"e":-1,"f":1,"g":1,"h":0,"i":1},
{"t":520,"a":1,"b":-2,"c":0,"d":-1,"e":0,"f":0,"g":0,"h":-1,"i":0},
{"t":522.9,"a":0,"b":-1},{"t":523.2,"a":10,"b":12},
{"t":525,"a":10,"b":12,"c":1,"d":1,"e":2.4,"f":1,"g":-1,"h":1,"i":-1},
{"t":530,"a":9,"b":11,"c":3.3,"d":2,"e":1,"f":3,"g":1,"h":2.4,"i":1},
{"t":535,"a":10,"b":13,"c":0,"d":0,"e":0,"f":4.8,"g":3.3,"h":2,"i":1.5},
{"t":540,"a":9,"b":12,"c":-1,"d":-1,"e":-1,"f":2,"g":0,"h":0,"i":1},
{"t":545,"a":10,"b":13,"c":1,"d":0,"e":0,"f":0,"g":-1,"h":-1,"i":0},
{"t":550,"a":9,"b":11,"c":0,"d":1,"e":1,"f":-1,"g":1,"h":1,"i":-1},
{"t":553,"a":9,"b":10},
{"t":555,"a":3,"b":0,"c":-1,"d":-1,"e":-1,"f":1,"g":0,"h":0,"i":0},
{"t":556,"a":1,"b":-1},
{"t":560,"a":0,"b":-2,"c":1,"d":0,"e":0,"f":0,"g":-1,"h":-1,"i":1},
{"t":565,"a":1,"b":0,"c":0,"d":1,"e":1,"f":-1,"g":0,"h":0,"i":0},
{"t":570,"a":-1,"b":-3,"c":-1,"d":0,"e":0,"f":0,"g":1,"h":1,"i":-1},
{"t":575,"a":0,"b":-1,"c":0,"d":-1,"e":-1,"f":1,"g":0,"h":0,"i":0},
{"t":580,"a":1,"b":-2,"c":1,"d":0,"e":1,"f":0,"g":-1,"h":-1,"i":1},
{"t":585,"a":0,"b":0,"c":-1,"d":1,"e":0,"f":-1,"g":1,"h":1,"i":0},
{"t":590,"a":-1,"b":-2,"c":0,"d":-2,"e":-1,"f":1,"g":0,"h":0,"i":-1},
{"t":595,"a":0,"b":-1,"c":-2,"d":0,"e":0,"f":0,"g":1,"h":1,"i":-2.4},
{"t":597.9,"a":0,"b":-1},{"t":598.2,"a":10,"b":12},
{"t":600,"a":10,"b":13,"c":0,"d":1,"e":1,"f":3,"g":2,"h":2.4,"i":0},
{"t":605,"a":11,"b":14,"c":2,"d":2,"e":0,"f":4.8,"g":1,"h":2,"i":1.5},
{"t":610,"a":11,"b":12,"c":4.8,"d":1,"e":-1,"f":3,"g":0,"h":0,"i":1},
{"t":615,"a":10,"b":13,"c":1.5,"d":0,"e":0,"f":1,"g":-1,"h":-1,"i":0},
{"t":620,"a":10,"b":11,"c":0,"d":-1,"e":1,"f":0,"g":1,"h":1,"i":-1},
{"t":624,"a":9,"b":11},
{"t":625,"a":8,"b":10,"c":1,"d":0,"e":0,"f":3.3,"g":0,"h":0,"i":0},
{"t":628,"a":6,"b":7},
{"t":630,"a":5,"b":4,"c":-1,"d":1,"e":-1,"f":0,"g":-1,"h":-1,"i":1},
{"t":632,"a":3,"b":2},
{"t":635,"a":1,"b":-1,"c":0,"d":-1,"e":0,"f":-1,"g":0,"h":0,"i":0},
{"t":640,"a":-1,"b":-2,"c":1,"d":0,"e":1,"f":1,"g":1,"h":1,"i":-1},
{"t":645,"a":-1,"b":0,"c":0,"d":1,"e":-1,"f":0,"g":0,"h":0,"i":0},
{"t":650,"a":-2,"b":-3,"c":-1,"d":0,"e":0,"f":-1,"g":-1,"h":-1,"i":1},
{"t":655,"a":-1,"b":-1,"c":1,"d":-1,"e":1,"f":0,"g":1,"h":1,"i":0},
{"t":660,"a":-2,"b":-2,"c":0,"d":0,"e":0,"f":1,"g":0,"h":0,"i":-1},
{"t":665,"a":-1,"b":0,"c":-1,"d":1,"e":-1,"f":0,"g":-1,"h":-1,"i":0},
{"t":670,"a":-1,"b":-3,"c":2.4,"d":2,"e":0,"f":-1,"g":0,"h":0,"i":1},
{"t":672.4,"a":-1,"b":-2},{"t":672.7,"a":8,"b":10},
{"t":675,"a":7,"b":8,"c":0,"d":0,"e":1,"f":2.4,"g":1,"h":1,"i":1.5},
{"t":680,"a":7,"b":7,"c":1,"d":-1,"e":0,"f":0,"g":0,"h":0,"i":0},
{"t":685,"a":6,"b":8,"c":-1,"d":1,"e":-1,"f":1,"g":-1,"h":-1,"i":-1},
{"t":690,"a":7,"b":6,"c":0,"d":0,"e":1,"f":-1,"g":1,"h":1,"i":0},
{"t":695,"a":6,"b":7,"c":1,"d":-1,"e":3.3,"f":0,"g":0,"h":2.4,"i":1},
{"t":700,"a":6,"b":6,"c":0,"d":0,"e":0,"f":1,"g":-1,"h":0,"i":0},
{"t":702,"a":6,"b":6},
{"t":705,"a":5,"b":1,"c":-1,"d":1,"e":-3.3,"f":0,"g":-1,"h":-3.8,"i":-1},
{"t":710,"a":4,"b":-2,"c":0,"d":-1,"e":-2,"f":-1,"g":-2,"h":-1,"i":0},
{"t":715,"a":2,"b":-3,"c":1,"d":0,"e":-1,"f":0,"g":-2.4,"h":0,"i":1},
{"t":720,"a":0,"b":-1,"c":-1,"d":-1,"e":0,"f":1,"g":-2,"h":-1,"i":0},
{"t":723,"a":-1,"b":-3},
{"t":725,"a":-2,"b":-4,"c":-2.4,"d":-2,"e":-1,"f":-3.3,"g":0,"h":-1.5,"i":-2.4},
{"t":730,"a":1,"b":-2,"c":2.4,"d":2.4,"e":1.5,"f":2.4,"g":2,"h":1.5,"i":2.4},
{"t":735,"a":-1,"b":0,"c":1,"d":1,"e":0,"f":0,"g":1,"h":0,"i":1},
{"t":740,"a":-1,"b":-3,"c":0,"d":0,"e":1,"f":1,"g":0,"h":1,"i":0},
{"t":745,"a":0,"b":-1,"c":1,"d":1,"e":0,"f":-1,"g":-1,"h":-1,"i":-1},
{"t":747.3,"a":0,"b":-1},{"t":747.6,"a":7,"b":8},
{"t":750,"a":7,"b":7,"c":-1,"d":-1,"e":1,"f":0,"g":1,"h":0,"i":0},
{"t":755,"a":6,"b":8,"c":0,"d":0,"e":2,"f":1,"g":0,"h":1,"i":1},
{"t":760,"a":8,"b":6,"c":1,"d":1,"e":3.8,"f":0,"g":-1,"h":0,"i":0},
{"t":765,"a":7,"b":8,"c":0,"d":0,"e":2,"f":-1,"g":0,"h":3.8,"i":-1},
{"t":770,"a":6,"b":7,"c":1,"d":1,"e":4.8,"f":1,"g":1,"h":2,"i":0},
{"t":775,"a":8,"b":9,"c":3.3,"d":2,"e":1,"f":0,"g":0,"h":3.8,"i":1},
{"t":777.5,"a":9.5,"b":9.5},
{"t":780,"a":7,"b":7,"c":1,"d":3.3,"e":-1,"f":-1,"g":3.3,"h":2,"i":0},
{"t":782,"a":6,"b":3},
{"t":785,"a":5,"b":-1,"c":0,"d":1,"e":0,"f":0,"g":1,"h":0,"i":-1},
{"t":790,"a":3,"b":-2,"c":-1,"d":0,"e":-1,"f":1,"g":0,"h":-1,"i":0},
{"t":795,"a":1,"b":0,"c":1,"d":-1,"e":0,"f":0,"g":-1,"h":1,"i":1},
{"t":800,"a":0,"b":-3,"c":0,"d":0,"e":1,"f":-1,"g":0,"h":0,"i":0},
{"t":805,"a":-1,"b":-1,"c":-1,"d":1,"e":0,"f":1,"g":1,"h":-1,"i":-1},
{"t":810,"a":-2,"b":-2,"c":0,"d":-1,"e":-1,"f":0,"g":0,"h":0,"i":0},
{"t":815,"a":-1,"b":0,"c":1,"d":0,"e":0,"f":-1,"g":-1,"h":-1,"i":1},
{"t":820,"a":-2,"b":-3,"c":0,"d":1,"e":-1.5,"f":1,"g":1,"h":-3.8,"i":0},
{"t":822.3,"a":-2,"b":-2},{"t":822.6,"a":7,"b":9.5},
{"t":825,"a":6,"b":8,"c":2.4,"d":0,"e":0,"f":4.8,"g":0,"h":1.5,"i":-1},
{"t":830,"a":7,"b":6,"c":0,"d":1,"e":1.5,"f":1,"g":-1,"h":0,"i":0},
{"t":835,"a":6,"b":7,"c":1,"d":0,"e":2.4,"f":0,"g":1,"h":1,"i":1},
{"t":840,"a":6,"b":5,"c":-1,"d":-1,"e":2.4,"f":-1,"g":0,"h":-1,"i":0},
{"t":845,"a":7,"b":8,"c":0,"d":1,"e":2,"f":1,"g":-1,"h":0,"i":-1},
{"t":850,"a":6,"b":7,"c":2.4,"d":0,"e":1,"f":3.3,"g":0,"h":1,"i":0},
{"t":855,"a":6,"b":5,"c":0,"d":-1,"e":0,"f":0,"g":1,"h":0,"i":1},
{"t":856,"a":6,"b":3},{"t":858,"a":4.5,"b":0},
{"t":860,"a":3,"b":-1,"c":-1,"d":0,"e":0,"f":-1,"g":0,"h":-1,"i":0},
{"t":865,"a":0,"b":-2,"c":1,"d":1,"e":-1,"f":1,"g":-1,"h":0,"i":-1},
{"t":870,"a":1,"b":0,"c":0,"d":0,"e":-1,"f":0,"g":1,"h":1,"i":0},
{"t":875,"a":-1,"b":-3,"c":-1,"d":-1,"e":0,"f":-1,"g":0,"h":0,"i":1},
{"t":880,"a":0,"b":-1,"c":1,"d":0,"e":-1,"f":1,"g":-1,"h":-1,"i":0},
{"t":885,"a":1,"b":-2,"c":0,"d":1,"e":-2,"f":0,"g":0,"h":1,"i":-1},
{"t":890,"a":0,"b":0,"c":-1,"d":0,"e":-1.5,"f":-1,"g":1,"h":0,"i":0},
{"t":895,"a":-1,"b":-3,"c":0,"d":-1,"e":-1,"f":0,"g":0,"h":-1,"i":1},
{"t":900,"a":0,"b":-1,"c":1,"d":1,"e":-1,"f":-3.8,"g":1,"h":0,"i":0}
]
},
"vconcat": [
{
"width": 1155, "height": 352,
"data": {"name": "A"},
"resolve": {"scale": {"y": "independent"}},
"layer": [
{"transform": [{"filter": "isValid(datum.a)"}], "mark": {"type": "line", "color": "#ff0000", "strokeWidth": 2.6},
 "encoding": {"x": {"field": "t", "type": "quantitative", "scale": {"domain": [-3.4, 901.1], "nice": false, "zero": false},
   "axis": {"orient": "bottom", "values": [97.3,197.3,297.3,397.3,497.3,597.3,697.3,797.3,897.3], "labels": false, "ticks": true, "tickSize": 11, "offset": -11, "tickColor": "#222", "tickWidth": 1.3, "domain": false, "title": null, "grid": false, "zindex": 1}},
  "y": {"field": "a", "type": "quantitative", "scale": {"domain": [-224.8, 56.8], "nice": false, "zero": false},
   "axis": {"title": "ΔF/F (%)", "labels": false, "ticks": false, "domain": false, "grid": false, "titleFontSize": 22, "titleFontWeight": "normal", "titleColor": "#000", "titlePadding": 18, "titleFont": "Liberation Sans"}}}},
{"transform": [{"filter": "isValid(datum.b)"}], "mark": {"type": "line", "color": "#ff0000", "strokeWidth": 2.6},
 "encoding": {"x": {"field": "t", "type": "quantitative", "scale": {"domain": [-3.4, 901.1], "nice": false, "zero": false}},
  "y": {"field": "b", "type": "quantitative", "scale": {"domain": [-188.8, 92.8], "nice": false, "zero": false}, "axis": null}}},
{"transform": [{"filter": "isValid(datum.c)"}], "mark": {"type": "line", "color": "#00e600", "strokeWidth": 3},
 "encoding": {"x": {"field": "t", "type": "quantitative", "scale": {"domain": [-3.4, 901.1], "nice": false, "zero": false}},
  "y": {"field": "c", "type": "quantitative", "scale": {"domain": [-163.2, 118.4], "nice": false, "zero": false}, "axis": null}}},
{"transform": [{"filter": "isValid(datum.d)"}], "mark": {"type": "line", "color": "#00e600", "strokeWidth": 3},
 "encoding": {"x": {"field": "t", "type": "quantitative", "scale": {"domain": [-3.4, 901.1], "nice": false, "zero": false}},
  "y": {"field": "d", "type": "quantitative", "scale": {"domain": [-135.2, 146.4], "nice": false, "zero": false}, "axis": null}}},
{"transform": [{"filter": "isValid(datum.e)"}], "mark": {"type": "line", "color": "#00e600", "strokeWidth": 3},
 "encoding": {"x": {"field": "t", "type": "quantitative", "scale": {"domain": [-3.4, 901.1], "nice": false, "zero": false}},
  "y": {"field": "e", "type": "quantitative", "scale": {"domain": [-110.4, 171.2], "nice": false, "zero": false}, "axis": null}}},
{"transform": [{"filter": "isValid(datum.f)"}], "mark": {"type": "line", "color": "#00e600", "strokeWidth": 3},
 "encoding": {"x": {"field": "t", "type": "quantitative", "scale": {"domain": [-3.4, 901.1], "nice": false, "zero": false}},
  "y": {"field": "f", "type": "quantitative", "scale": {"domain": [-91.2, 190.4], "nice": false, "zero": false}, "axis": null}}},
{"transform": [{"filter": "isValid(datum.g)"}], "mark": {"type": "line", "color": "#00e600", "strokeWidth": 3},
 "encoding": {"x": {"field": "t", "type": "quantitative", "scale": {"domain": [-3.4, 901.1], "nice": false, "zero": false}},
  "y": {"field": "g", "type": "quantitative", "scale": {"domain": [-67.2, 214.4], "nice": false, "zero": false}, "axis": null}}},
{"transform": [{"filter": "isValid(datum.h)"}], "mark": {"type": "line", "color": "#00e600", "strokeWidth": 3},
 "encoding": {"x": {"field": "t", "type": "quantitative", "scale": {"domain": [-3.4, 901.1], "nice": false, "zero": false}},
  "y": {"field": "h", "type": "quantitative", "scale": {"domain": [-44.8, 236.8], "nice": false, "zero": false}, "axis": null}}},
{"transform": [{"filter": "isValid(datum.i)"}], "mark": {"type": "line", "color": "#00e600", "strokeWidth": 3},
 "encoding": {"x": {"field": "t", "type": "quantitative", "scale": {"domain": [-3.4, 901.1], "nice": false, "zero": false}},
  "y": {"field": "i", "type": "quantitative", "scale": {"domain": [-16.8, 264.8], "nice": false, "zero": false}, "axis": null}}},
{"data": {"values": [{"lo": 20, "hi": 45}]}, "mark": {"type": "rule", "color": "#000", "strokeWidth": 2.5},
 "encoding": {"x": {"datum": 3.4, "type": "quantitative", "scale": {"domain": [-3.4, 901.1], "nice": false, "zero": false}},
  "y": {"field": "lo", "type": "quantitative", "scale": {"domain": [-224.8, 56.8], "nice": false, "zero": false}, "axis": null}, "y2": {"field": "hi"}}},
{"data": {"values": [{"txt": "25%"}]}, "mark": {"type": "text", "fontSize": 18.5, "align": "left", "baseline": "alphabetic", "color": "#000"},
 "encoding": {"text": {"field": "txt"}, "x": {"datum": 6.8, "type": "quantitative", "scale": {"domain": [-3.4, 901.1], "nice": false, "zero": false}},
  "y": {"datum": 26.4, "type": "quantitative", "scale": {"domain": [-224.8, 56.8], "nice": false, "zero": false}, "axis": null}}},
{"data": {"values": [{"txt": "Without astrocyte mGluR antagonist"}]}, "mark": {"type": "text", "fontSize": 22, "align": "right", "baseline": "alphabetic", "color": "#000"},
 "encoding": {"text": {"field": "txt"}, "x": {"datum": 889.6, "type": "quantitative", "scale": {"domain": [-3.4, 901.1], "nice": false, "zero": false}},
  "y": {"datum": 34, "type": "quantitative", "scale": {"domain": [-224.8, 56.8], "nice": false, "zero": false}, "axis": null}}},
{"data": {"name": "stim"}, "mark": {"type": "rule", "color": "#000", "strokeWidth": 2},
 "encoding": {"x": {"field": "start", "type": "quantitative", "scale": {"domain": [-3.4, 901.1], "nice": false, "zero": false}}, "x2": {"field": "end"},
  "y": {"datum": 69.8, "type": "quantitative", "scale": {"domain": [-224.8, 56.8], "nice": false, "zero": false}, "axis": null}}},
{"data": {"name": "stim"}, "mark": {"type": "rule", "color": "#000", "strokeWidth": 2},
 "encoding": {"x": {"field": "start", "type": "quantitative", "scale": {"domain": [-3.4, 901.1], "nice": false, "zero": false}},
  "y": {"datum": 66.8, "type": "quantitative", "scale": {"domain": [-224.8, 56.8], "nice": false, "zero": false}, "axis": null}, "y2": {"datum": 72.8}}},
{"data": {"name": "stim"}, "mark": {"type": "rule", "color": "#000", "strokeWidth": 2},
 "encoding": {"x": {"field": "end", "type": "quantitative", "scale": {"domain": [-3.4, 901.1], "nice": false, "zero": false}},
  "y": {"datum": 66.8, "type": "quantitative", "scale": {"domain": [-224.8, 56.8], "nice": false, "zero": false}, "axis": null}, "y2": {"datum": 72.8}}},
{"data": {"name": "stim"}, "mark": {"type": "text", "fontSize": 22, "align": "center", "baseline": "alphabetic", "color": "#000"},
 "encoding": {"text": {"field": "label"}, "x": {"field": "mid", "type": "quantitative", "scale": {"domain": [-3.4, 901.1], "nice": false, "zero": false}},
  "y": {"datum": 81.6, "type": "quantitative", "scale": {"domain": [-224.8, 56.8], "nice": false, "zero": false}, "axis": null}}},
{"data": {"values": [{"txt": "Stim"}]}, "mark": {"type": "text", "fontSize": 22, "align": "center", "baseline": "alphabetic", "color": "#000"},
 "encoding": {"text": {"field": "txt"}, "x": {"datum": 15.8, "type": "quantitative", "scale": {"domain": [-3.4, 901.1], "nice": false, "zero": false}},
  "y": {"datum": 68, "type": "quantitative", "scale": {"domain": [-224.8, 56.8], "nice": false, "zero": false}, "axis": null}}},
{"data": {"values": [{"txt": "A"}]}, "mark": {"type": "text", "fontSize": 22, "fontWeight": "bold", "align": "left", "baseline": "alphabetic", "color": "#000"},
 "encoding": {"text": {"field": "txt"}, "x": {"datum": -34.9, "type": "quantitative", "scale": {"domain": [-3.4, 901.1], "nice": false, "zero": false}},
  "y": {"datum": 81.6, "type": "quantitative", "scale": {"domain": [-224.8, 56.8], "nice": false, "zero": false}, "axis": null}}},
{"data": {"name": "braceA"}, "mark": {"type": "line", "color": "#000", "strokeWidth": 2, "interpolate": "catmull-rom"},
 "encoding": {"x": {"field": "bx", "type": "quantitative", "scale": {"domain": [-3.4, 901.1], "nice": false, "zero": false}},
  "y": {"field": "by", "type": "quantitative", "scale": {"domain": [-224.8, 56.8], "nice": false, "zero": false}, "axis": null},
  "detail": {"field": "g"}, "order": {"field": "o"}}},
{"data": {"values": [{"txt": "Neurons"}]}, "mark": {"type": "text", "fontSize": 22, "angle": 270, "align": "center", "baseline": "middle", "color": "#000"},
 "encoding": {"text": {"field": "txt"}, "x": {"datum": 942.6, "type": "quantitative", "scale": {"domain": [-3.4, 901.1], "nice": false, "zero": false}},
  "y": {"datum": -10.8, "type": "quantitative", "scale": {"domain": [-224.8, 56.8], "nice": false, "zero": false}, "axis": null}}},
{"data": {"values": [{"txt": "Astrocytes"}]}, "mark": {"type": "text", "fontSize": 22, "angle": 270, "align": "center", "baseline": "middle", "color": "#000"},
 "encoding": {"text": {"field": "txt"}, "x": {"datum": 942.6, "type": "quantitative", "scale": {"domain": [-3.4, 901.1], "nice": false, "zero": false}},
  "y": {"datum": -136, "type": "quantitative", "scale": {"domain": [-224.8, 56.8], "nice": false, "zero": false}, "axis": null}}}
]
},
{
"width": 1155, "height": 351,
"data": {"name": "B"},
"resolve": {"scale": {"y": "independent"}},
"layer": [
{"transform": [{"filter": "isValid(datum.a)"}], "mark": {"type": "line", "color": "#ff0000", "strokeWidth": 2.6},
 "encoding": {"x": {"field": "t", "type": "quantitative", "scale": {"domain": [-3.4, 901.1], "nice": false, "zero": false},
   "axis": {"orient": "bottom", "values": [0,100,200,300,400,500,600,700,800,900], "ticks": true, "tickSize": 11, "offset": -11, "tickColor": "#222", "tickWidth": 1.3, "domain": false, "grid": false, "zindex": 1,
    "labelExpr": "datum.value % 200 === 0 ? datum.label : ''", "labelFlush": false, "labelOverlap": false, "labelFontSize": 22, "labelColor": "#000", "labelPadding": 10, "labelFont": "Liberation Sans",
    "title": "Time [s]", "titleFontSize": 22, "titleFontWeight": "normal", "titleColor": "#000", "titlePadding": 2, "titleFont": "Liberation Sans"}},
  "y": {"field": "a", "type": "quantitative", "scale": {"domain": [-137.6, 29.5], "nice": false, "zero": false},
   "axis": {"title": "ΔF/F (%)", "labels": false, "ticks": false, "domain": false, "grid": false, "titleFontSize": 22, "titleFontWeight": "normal", "titleColor": "#000", "titlePadding": 18, "titleFont": "Liberation Sans"}}}},
{"transform": [{"filter": "isValid(datum.b)"}], "mark": {"type": "line", "color": "#ff0000", "strokeWidth": 2.6},
 "encoding": {"x": {"field": "t", "type": "quantitative", "scale": {"domain": [-3.4, 901.1], "nice": false, "zero": false}},
  "y": {"field": "b", "type": "quantitative", "scale": {"domain": [-113.8, 53.3], "nice": false, "zero": false}, "axis": null}}},
{"transform": [{"filter": "isValid(datum.c)"}], "mark": {"type": "line", "color": "#00e600", "strokeWidth": 3},
 "encoding": {"x": {"field": "t", "type": "quantitative", "scale": {"domain": [-3.4, 901.1], "nice": false, "zero": false}},
  "y": {"field": "c", "type": "quantitative", "scale": {"domain": [-98.6, 68.6], "nice": false, "zero": false}, "axis": null}}},
{"transform": [{"filter": "isValid(datum.d)"}], "mark": {"type": "line", "color": "#00e600", "strokeWidth": 3},
 "encoding": {"x": {"field": "t", "type": "quantitative", "scale": {"domain": [-3.4, 901.1], "nice": false, "zero": false}},
  "y": {"field": "d", "type": "quantitative", "scale": {"domain": [-84.3, 82.9], "nice": false, "zero": false}, "axis": null}}},
{"transform": [{"filter": "isValid(datum.e)"}], "mark": {"type": "line", "color": "#00e600", "strokeWidth": 3},
 "encoding": {"x": {"field": "t", "type": "quantitative", "scale": {"domain": [-3.4, 901.1], "nice": false, "zero": false}},
  "y": {"field": "e", "type": "quantitative", "scale": {"domain": [-70, 97.1], "nice": false, "zero": false}, "axis": null}}},
{"transform": [{"filter": "isValid(datum.f)"}], "mark": {"type": "line", "color": "#00e600", "strokeWidth": 3},
 "encoding": {"x": {"field": "t", "type": "quantitative", "scale": {"domain": [-3.4, 901.1], "nice": false, "zero": false}},
  "y": {"field": "f", "type": "quantitative", "scale": {"domain": [-54.8, 112.4], "nice": false, "zero": false}, "axis": null}}},
{"transform": [{"filter": "isValid(datum.g)"}], "mark": {"type": "line", "color": "#00e600", "strokeWidth": 3},
 "encoding": {"x": {"field": "t", "type": "quantitative", "scale": {"domain": [-3.4, 901.1], "nice": false, "zero": false}},
  "y": {"field": "g", "type": "quantitative", "scale": {"domain": [-40.5, 126.7], "nice": false, "zero": false}, "axis": null}}},
{"transform": [{"filter": "isValid(datum.h)"}], "mark": {"type": "line", "color": "#00e600", "strokeWidth": 3},
 "encoding": {"x": {"field": "t", "type": "quantitative", "scale": {"domain": [-3.4, 901.1], "nice": false, "zero": false}},
  "y": {"field": "h", "type": "quantitative", "scale": {"domain": [-25.7, 141.4], "nice": false, "zero": false}, "axis": null}}},
{"transform": [{"filter": "isValid(datum.i)"}], "mark": {"type": "line", "color": "#00e600", "strokeWidth": 3},
 "encoding": {"x": {"field": "t", "type": "quantitative", "scale": {"domain": [-3.4, 901.1], "nice": false, "zero": false}},
  "y": {"field": "i", "type": "quantitative", "scale": {"domain": [-11.4, 155.7], "nice": false, "zero": false}, "axis": null}}},
{"data": {"values": [{"lo": 1, "hi": 26}]}, "mark": {"type": "rule", "color": "#000", "strokeWidth": 2.5},
 "encoding": {"x": {"datum": 3.4, "type": "quantitative", "scale": {"domain": [-3.4, 901.1], "nice": false, "zero": false}},
  "y": {"field": "lo", "type": "quantitative", "scale": {"domain": [-137.6, 29.5], "nice": false, "zero": false}, "axis": null}, "y2": {"field": "hi"}}},
{"data": {"values": [{"txt": "25%"}]}, "mark": {"type": "text", "fontSize": 18.5, "align": "left", "baseline": "alphabetic", "color": "#000"},
 "encoding": {"text": {"field": "txt"}, "x": {"datum": 6.8, "type": "quantitative", "scale": {"domain": [-3.4, 901.1], "nice": false, "zero": false}},
  "y": {"datum": 9.5, "type": "quantitative", "scale": {"domain": [-137.6, 29.5], "nice": false, "zero": false}, "axis": null}}},
{"data": {"values": [{"txt": "With astrocytic mGluR antagonist"}]}, "mark": {"type": "text", "fontSize": 22, "align": "right", "baseline": "alphabetic", "color": "#000"},
 "encoding": {"text": {"field": "txt"}, "x": {"datum": 889.6, "type": "quantitative", "scale": {"domain": [-3.4, 901.1], "nice": false, "zero": false}},
  "y": {"datum": 16.2, "type": "quantitative", "scale": {"domain": [-137.6, 29.5], "nice": false, "zero": false}, "axis": null}}},
{"data": {"values": [{"txt": "B"}]}, "mark": {"type": "text", "fontSize": 22, "fontWeight": "bold", "align": "left", "baseline": "alphabetic", "color": "#000"},
 "encoding": {"text": {"field": "txt"}, "x": {"datum": -34.9, "type": "quantitative", "scale": {"domain": [-3.4, 901.1], "nice": false, "zero": false}},
  "y": {"datum": 21.2, "type": "quantitative", "scale": {"domain": [-137.6, 29.5], "nice": false, "zero": false}, "axis": null}}},
{"data": {"name": "braceB"}, "mark": {"type": "line", "color": "#000", "strokeWidth": 2, "interpolate": "catmull-rom"},
 "encoding": {"x": {"field": "bx", "type": "quantitative", "scale": {"domain": [-3.4, 901.1], "nice": false, "zero": false}},
  "y": {"field": "by", "type": "quantitative", "scale": {"domain": [-137.6, 29.5], "nice": false, "zero": false}, "axis": null},
  "detail": {"field": "g"}, "order": {"field": "o"}}},
{"data": {"values": [{"txt": "Neurons"}]}, "mark": {"type": "text", "fontSize": 22, "angle": 270, "align": "center", "baseline": "middle", "color": "#000"},
 "encoding": {"text": {"field": "txt"}, "x": {"datum": 942.6, "type": "quantitative", "scale": {"domain": [-3.4, 901.1], "nice": false, "zero": false}},
  "y": {"datum": -5.7, "type": "quantitative", "scale": {"domain": [-137.6, 29.5], "nice": false, "zero": false}, "axis": null}}},
{"data": {"values": [{"txt": "Astrocytes"}]}, "mark": {"type": "text", "fontSize": 22, "angle": 270, "align": "center", "baseline": "middle", "color": "#000"},
 "encoding": {"text": {"field": "txt"}, "x": {"datum": 942.6, "type": "quantitative", "scale": {"domain": [-3.4, 901.1], "nice": false, "zero": false}},
  "y": {"datum": -84.8, "type": "quantitative", "scale": {"domain": [-137.6, 29.5], "nice": false, "zero": false}, "axis": null}}}
]
}
]
}
